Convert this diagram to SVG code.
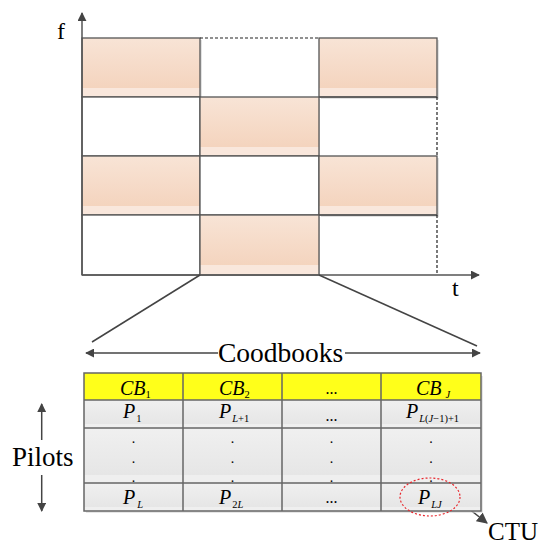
<svg xmlns="http://www.w3.org/2000/svg" width="541" height="546" viewBox="0 0 541 546">
<style>
.txt{font-family:"Liberation Serif","DejaVu Serif",serif;fill:#000}
.it{font-style:italic}
.sub{font-size:10.5px}
.up{font-style:normal}
.cell{stroke:#555;stroke-width:1.3}
.sh{fill:url(#peach)}
.wh{fill:#fff}
.shadow{fill:#cfcfcf;opacity:0.6}
.axis{stroke:#555;stroke-width:1.5;fill:none}
.dash{stroke:#222;stroke-width:1.2;stroke-dasharray:3,2;fill:none}
.gray{fill:url(#grayg)}
.conn{stroke:#444;stroke-width:1.5;fill:none}
</style>
<defs>
<linearGradient id="peach" x1="0" y1="0" x2="0" y2="1">
<stop offset="0" stop-color="#F8E4D6"/>
<stop offset="0.84" stop-color="#F4D4BE"/>
<stop offset="0.84" stop-color="#F9E7DC"/>
<stop offset="1" stop-color="#F9E7DC"/>
</linearGradient>
<linearGradient id="grayg" x1="0" y1="0" x2="0" y2="1">
<stop offset="0" stop-color="#F0F0F0"/>
<stop offset="0.85" stop-color="#E6E6E6"/>
<stop offset="0.85" stop-color="#EFEFEF"/>
<stop offset="1" stop-color="#EFEFEF"/>
</linearGradient>
<marker id="ah" viewBox="0 0 10 10" refX="9" refY="5" markerWidth="9" markerHeight="9" markerUnits="userSpaceOnUse" orient="auto">
<path d="M0,0 L10,5 L0,10 Z" fill="#444"/>
</marker>
<marker id="ahb" viewBox="0 0 10 10" refX="9" refY="5" markerWidth="11" markerHeight="11" markerUnits="userSpaceOnUse" orient="auto">
<path d="M0,0 L10,5 L0,10 Z" fill="#444"/>
</marker>
</defs>
<rect width="541" height="546" fill="#fff"/>

<g id="grid">
<rect class="shadow" x="84" y="40" width="118" height="59"/>
<rect class="shadow" x="321" y="40" width="118" height="59"/>
<rect class="shadow" x="202" y="99" width="118" height="59"/>
<rect class="shadow" x="84" y="158" width="118" height="59"/>
<rect class="shadow" x="321" y="158" width="118" height="59"/>
<rect class="shadow" x="202" y="217" width="118" height="59"/>
<rect class="cell sh" x="82" y="38" width="118" height="59"/>
<rect class="cell sh" x="319" y="38" width="118" height="59"/>
<rect class="cell wh" x="82" y="97" width="118" height="59"/>
<rect class="cell sh" x="200" y="97" width="119" height="59"/>
<rect class="cell sh" x="82" y="156" width="118" height="59"/>
<rect class="cell wh" x="200" y="156" width="119" height="59"/>
<rect class="cell sh" x="319" y="156" width="118" height="59"/>
<rect class="cell wh" x="82" y="215" width="118" height="60"/>
<rect class="cell sh" x="200" y="215" width="119" height="60"/>
<line class="cell" x1="319" y1="97" x2="437" y2="97"/>
<line class="cell" x1="319" y1="215" x2="437" y2="215"/>
<line class="dash" x1="200" y1="38" x2="319" y2="38"/>
<line class="dash" x1="437" y1="97" x2="437" y2="156"/>
<line class="dash" x1="437" y1="215" x2="437" y2="275"/>
</g>

<g id="axes">
<line class="axis" x1="82" y1="275" x2="82" y2="13" marker-end="url(#ah)"/>
<line class="axis" x1="82" y1="275" x2="479" y2="275" marker-end="url(#ah)"/>
<text class="txt" x="57" y="39" font-size="24">f</text>
<text class="txt" x="452" y="296" font-size="24">t</text>
</g>

<g id="connectors">
<line class="conn" x1="200" y1="275" x2="92" y2="342"/>
<line class="conn" x1="319" y1="275" x2="477" y2="346"/>
<line class="conn" x1="218" y1="353" x2="86" y2="353" marker-end="url(#ah)"/>
<line class="conn" x1="345" y1="353" x2="480" y2="353" marker-end="url(#ah)"/>
<line class="conn" x1="41.7" y1="440" x2="41.7" y2="404" marker-end="url(#ah)"/>
<line class="conn" x1="41.7" y1="475" x2="41.7" y2="511" marker-end="url(#ah)"/>
<line class="conn" x1="459" y1="501" x2="487" y2="523" marker-end="url(#ahb)"/>
</g>

<g id="labels">
<text class="txt" x="218" y="362" font-size="27.5">Coodbooks</text>
<text class="txt" x="12" y="466" font-size="27">Pilots</text>
<text class="txt" x="488" y="540" font-size="25">CTU</text>
</g>

<g id="table">
<rect x="86" y="376" width="397" height="137" fill="#d6d6d6" opacity="0.6"/>
<rect x="84" y="373" width="397" height="27" fill="#FFFF1A"/>
<rect class="gray" x="84" y="400" width="397" height="28"/>
<rect class="gray" x="84" y="428" width="397" height="55"/>
<rect class="gray" x="84" y="483" width="397" height="28"/>
<g stroke="#666" stroke-width="1.5" fill="none">
<rect x="84" y="373" width="397" height="138"/>
<line x1="84" y1="400" x2="481" y2="400"/>
<line x1="84" y1="428" x2="481" y2="428"/>
<line x1="84" y1="483" x2="481" y2="483"/>
<line x1="183" y1="373" x2="183" y2="511"/>
<line x1="282" y1="373" x2="282" y2="511"/>
<line x1="381" y1="373" x2="381" y2="511"/>
</g>
<g class="txt" font-size="20">
<text class="it" x="120" y="394.5">CB<tspan class="sub up" dy="3.5">1</tspan></text>
<text class="it" x="219" y="394.5">CB<tspan class="sub up" dy="3.5">2</tspan></text>
<text x="331.5" y="394" text-anchor="middle" font-size="16">...</text>
<text class="it" x="416" y="394.5">CB<tspan class="sub" dx="4" dy="3.5">J</tspan></text>

<text class="it" x="123" y="418">P<tspan class="sub up" dx="1" dy="3.5">1</tspan></text>
<text class="it" x="219" y="418">P<tspan class="sub" dx="1" dy="3.5">L</tspan><tspan class="sub up">+1</tspan></text>
<text x="331.5" y="421" text-anchor="middle" font-size="16">...</text>
<text class="it" x="406" y="418">P<tspan class="sub" dx="1" dy="3.5">L</tspan><tspan class="sub up">(</tspan><tspan class="sub">J</tspan><tspan class="sub up">−1)+1</tspan></text>

<text class="it" x="123" y="504">P<tspan class="sub" dx="2" dy="3.5">L</tspan></text>
<text class="it" x="219" y="504">P<tspan class="sub up" dx="1" dy="3.5">2</tspan><tspan class="sub">L</tspan></text>
<text x="331.5" y="503" text-anchor="middle" font-size="16">...</text>
<text class="it" x="418" y="504">P<tspan class="sub" dx="1" dy="3.5">LJ</tspan></text>
</g>
<g class="txt" font-size="14" text-anchor="middle">
<text x="133.5" y="443">.</text><text x="133.5" y="463">.</text><text x="133.5" y="482">.</text>
<text x="232.5" y="443">.</text><text x="232.5" y="463">.</text><text x="232.5" y="482">.</text>
<text x="331.5" y="443">.</text><text x="331.5" y="463">.</text><text x="331.5" y="482">.</text>
<text x="431" y="443">.</text><text x="431" y="463">.</text><text x="431" y="482">.</text>
</g>
<ellipse cx="430" cy="497" rx="30" ry="19" fill="none" stroke="#E8262C" stroke-width="1.2" stroke-dasharray="2,2"/>
</g>
</svg>
